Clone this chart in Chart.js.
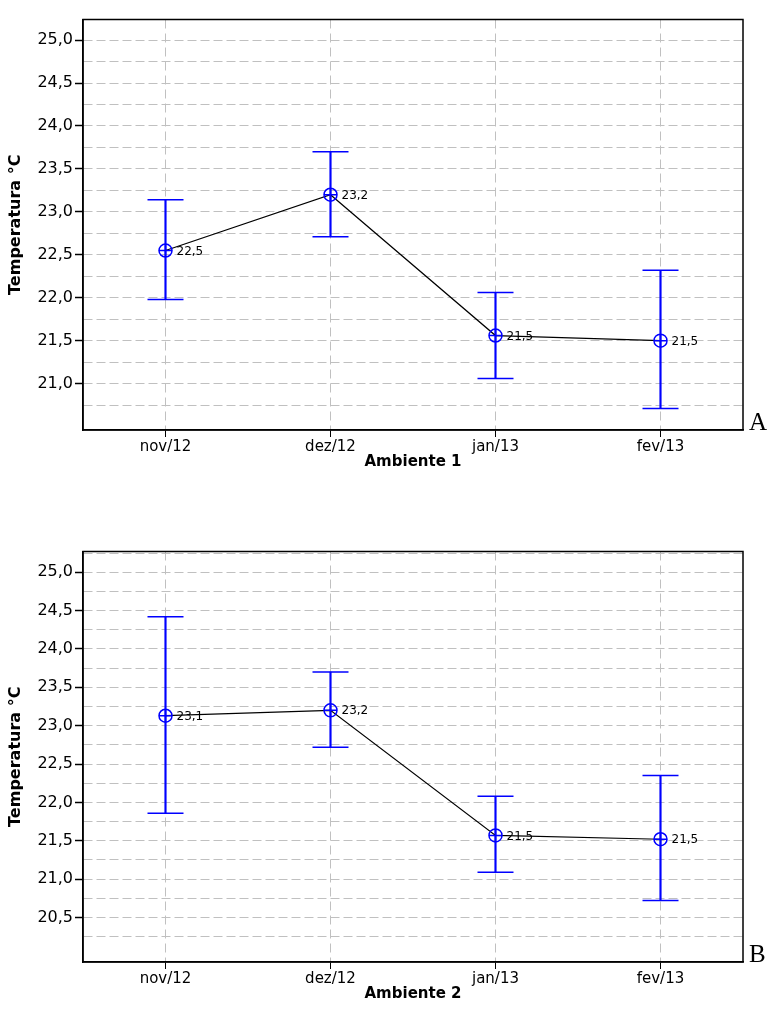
<!DOCTYPE html>
<html>
<head>
<meta charset="utf-8">
<script src="https://cdn.jsdelivr.net/npm/chart.js"></script>
<style>
  body { margin: 0; background: #fff; }
  #wrap { position: relative; width: 769px; height: 1013px; background: #fff; }
  canvas { position: absolute; left: 0; }
</style>
</head>
<body>
<div id="wrap">
  <canvas id="chartA" width="769" height="480" style="top:0;width:769px;height:480px"></canvas>
  <canvas id="chartB" width="769" height="480" style="top:532px;width:769px;height:480px"></canvas>
</div>
<script>
// meses
const categories = ["nov/12", "dez/12", "jan/13", "fev/13"];

// Ambiente 1 (A): media e limites do intervalo
const meanA = [22.55, 23.20, 21.56, 21.50];
const upperA = [23.14, 23.70, 22.06, 22.32];
const lowerA = [21.98, 22.71, 21.06, 20.71];

// Ambiente 2 (B)
const meanB = [23.13, 23.20, 21.57, 21.52];
const upperB = [24.42, 23.70, 22.08, 22.35];
const lowerB = [21.86, 22.72, 21.09, 20.72];

// ticks do eixo y (com rotulo) e linhas menores
const yMajorA = [21.0, 21.5, 22.0, 22.5, 23.0, 23.5, 24.0, 24.5, 25.0];
const yMinorA = [20.75, 21.25, 21.75, 22.25, 22.75, 23.25, 23.75, 24.25, 24.75];
const yMajorB = [20.5, 21.0, 21.5, 22.0, 22.5, 23.0, 23.5, 24.0, 24.5, 25.0];
const yMinorB = [20.25, 20.75, 21.25, 21.75, 22.25, 22.75, 23.25, 23.75, 24.25, 24.75, 25.25];

const BLUE = "#0000ff";
const GRID = "#c0c0c0";

Chart.defaults.font.family = "'DejaVu Sans', Verdana, sans-serif";
Chart.defaults.color = "#000";

function fmt(v) {
  return v.toFixed(1).replace(".", ",");
}
function fmtMean(v) {
  return fmt(Math.floor(v * 10 + 1e-9) / 10);
}
function isIn(list, v) {
  return list.some(m => Math.abs(m - v) < 1e-6);
}

// moldura, rotulos das medias e letra do painel
const extras = {
  id: "extras",
  afterDatasetsDraw(chart, args, opts) {
    const ctx = chart.ctx;
    const a = chart.chartArea;
    const meta = chart.getDatasetMeta(0);
    ctx.save();
    ctx.fillStyle = "#000";
    ctx.font = "12px 'DejaVu Sans'";
    ctx.textBaseline = "middle";
    ctx.textAlign = "left";
    meta.data.forEach((pt, i) => {
      ctx.fillText(fmtMean(opts.means[i]), pt.x + 11, pt.y + 1);
    });
    ctx.strokeStyle = "#000";
    ctx.lineWidth = 1.5;
    ctx.strokeRect(a.left, a.top, a.right - a.left, a.bottom - a.top);
    ctx.font = "25px 'Liberation Serif'";
    ctx.textBaseline = "alphabetic";
    ctx.fillText(opts.letter, a.right + 6, a.bottom);
    ctx.restore();
  }
};

function makeChart(id, means, upper, lower, yMajor, yMinor, yMin, yMax, xTitle, letter, padTop) {
  const allTicks = yMajor.concat(yMinor).sort((p, q) => p - q);
  return new Chart(document.getElementById(id), {
    type: "line",
    data: {
      labels: categories,
      datasets: [
        {
          // circulo da media
          data: means,
          showLine: false,
          pointStyle: "circle",
          pointRadius: 6.5,
          borderColor: BLUE,
          backgroundColor: "rgba(0,0,0,0)",
          borderWidth: 1.5,
          order: 0
        },
        {
          // cruz dentro do circulo
          data: means,
          showLine: false,
          pointStyle: "cross",
          pointRadius: 6.5,
          borderColor: BLUE,
          borderWidth: 1.5,
          order: 0
        },
        {
          // linha ligando as medias
          data: means,
          borderColor: "#000",
          borderWidth: 1.2,
          pointRadius: 0,
          order: 2
        },
        {
          data: upper,
          showLine: false,
          pointStyle: "line",
          pointRadius: 18,
          borderColor: BLUE,
          borderWidth: 1.5,
          order: 3
        },
        {
          data: lower,
          showLine: false,
          pointStyle: "line",
          pointRadius: 18,
          borderColor: BLUE,
          borderWidth: 1.5,
          order: 3
        },
        {
          // barra vertical do intervalo
          type: "bar",
          data: lower.map((lo, i) => [lo, upper[i]]),
          backgroundColor: BLUE,
          borderWidth: 0,
          barThickness: 1.5,
          order: 4
        }
      ]
    },
    options: {
      responsive: false,
      animation: false,
      devicePixelRatio: 1,
      events: [],
      layout: { padding: { top: padTop, right: 26, left: 0, bottom: 0 } },
      plugins: {
        legend: { display: false },
        tooltip: { enabled: false },
        extras: { means: means, letter: letter }
      },
      scales: {
        x: {
          type: "category",
          offset: true,
          grid: {
            offset: false,
            color: GRID,
            lineWidth: 1,
            tickColor: "#000",
            tickLength: 7,
            borderDash: [9, 5]
          },
          border: { color: "#000", width: 1.5, dash: [9, 5] },
          ticks: { font: { size: 15 }, color: "#000", padding: 1, maxRotation: 0 },
          title: {
            display: true,
            text: xTitle,
            font: { size: 15, weight: "bold" },
            color: "#000",
            padding: { top: 0, bottom: 9 }
          },
          afterFit: s => { s.height = 50; }
        },
        y: {
          type: "linear",
          min: yMin,
          max: yMax,
          beginAtZero: false,
          afterBuildTicks: s => { s.ticks = allTicks.map(v => ({ value: v })); },
          grid: {
            color: GRID,
            lineWidth: 1,
            tickLength: 8,
            tickWidth: 1.5,
            tickColor: c => (c.tick && isIn(yMajor, c.tick.value) ? "#000" : "rgba(0,0,0,0)"),
            borderDash: [9, 4]
          },
          border: { color: "#000", width: 1.5, dash: [9, 4] },
          ticks: {
            font: { size: 16 },
            color: "#000",
            padding: 2,
            autoSkip: false,
            callback: v => (isIn(yMajor, v) ? fmt(v) : "")
          },
          title: {
            display: true,
            text: "Temperatura °C",
            font: { size: 16, weight: "bold" },
            color: "#000",
            padding: { top: 6, bottom: 0 }
          },
          afterFit: s => { s.width = 83; }
        }
      }
    },
    plugins: [extras]
  });
}

makeChart("chartA", meanA, upperA, lowerA, yMajorA, yMinorA, 20.46, 25.24, "Ambiente 1", "A", 12);
makeChart("chartB", meanB, upperB, lowerB, yMajorB, yMinorB, 19.92, 25.27, "Ambiente 2", "B", 10);
</script>
</body>
</html>
